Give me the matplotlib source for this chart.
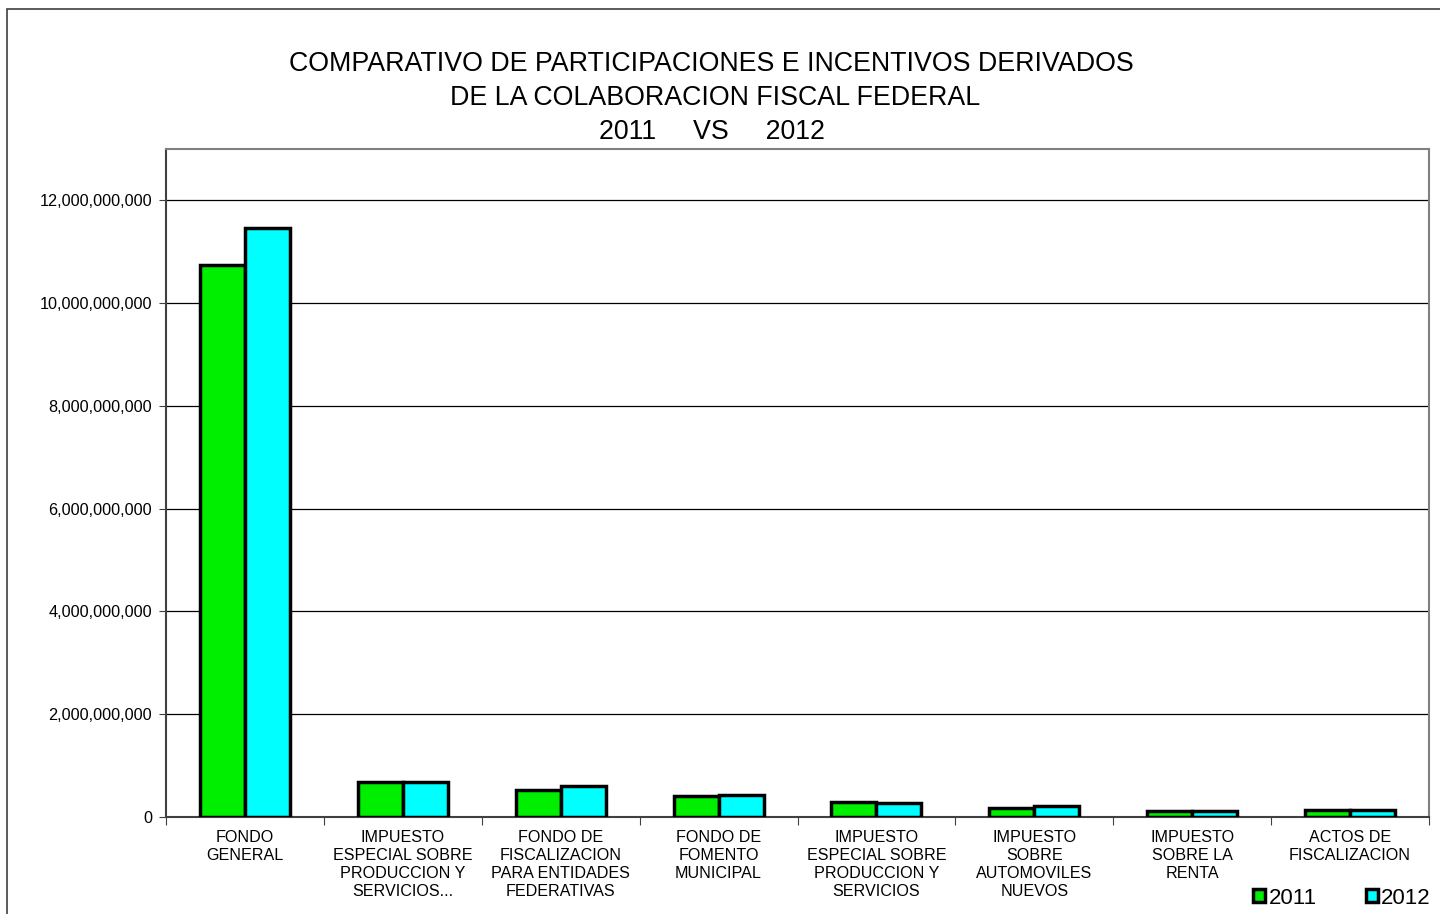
import numpy as np
import matplotlib
matplotlib.use("Agg")
import matplotlib.pyplot as plt
from matplotlib.patches import Rectangle
from matplotlib.ticker import FuncFormatter

plt.rcParams['font.family'] = ['Liberation Sans', 'DejaVu Sans']

# categories and values (pesos)
categorias = [
    "FONDO\nGENERAL",
    "IMPUESTO\nESPECIAL SOBRE\nPRODUCCION Y\nSERVICIOS...",
    "FONDO DE\nFISCALIZACION\nPARA ENTIDADES\nFEDERATIVAS",
    "FONDO DE\nFOMENTO\nMUNICIPAL",
    "IMPUESTO\nESPECIAL SOBRE\nPRODUCCION Y\nSERVICIOS",
    "IMPUESTO\nSOBRE\nAUTOMOVILES\nNUEVOS",
    "IMPUESTO\nSOBRE LA\nRENTA",
    "ACTOS DE\nFISCALIZACION",
]
valores_2011 = [10.75e9, 0.69e9, 0.53e9, 0.40e9, 0.29e9, 0.17e9, 0.12e9, 0.13e9]
valores_2012 = [11.46e9, 0.68e9, 0.60e9, 0.43e9, 0.27e9, 0.21e9, 0.12e9, 0.13e9]
series = ["2011", "2012"]

W, H = 1440, 914
fig = plt.figure(figsize=(14.4, 9.14), dpi=100)

# outer chart border (right and bottom edges fall outside the image)
fig.patches.append(Rectangle((7 / W, -0.2), 1.2, 1.2 - 9 / H, transform=fig.transFigure,
                             fill=False, edgecolor='#404040', lw=1.2))

ax = fig.add_axes([166 / W, 1 - 817 / H, (1429 - 166) / W, (817 - 149) / H])

x = np.arange(len(categorias))
bw = 0.285
ax.bar(x - bw / 2, valores_2011, bw, color='#00ee00', edgecolor='black', lw=2.5,
       label=series[0], zorder=3)
ax.bar(x + bw / 2, valores_2012, bw, color='#00ffff', edgecolor='black', lw=2.5,
       label=series[1], zorder=3)

ax.set_xlim(-0.5, len(categorias) - 0.5)
ax.set_ylim(0, 13e9)
ax.set_yticks(np.arange(0, 12.1e9, 2e9))
ax.yaxis.set_major_formatter(FuncFormatter(lambda v, p: f"{v:,.0f}"))
ax.grid(axis='y', color='black', lw=0.9, zorder=0)
ax.tick_params(axis='y', labelsize=11.7, length=5, color='#404040', pad=5)

ax.set_xticks(np.arange(-0.5, len(categorias), 1))
ax.set_xticklabels([])
ax.set_xticks(x, minor=True)
ax.set_xticklabels(categorias, minor=True, fontsize=11.6, linespacing=1.27, va='top')
ax.tick_params(axis='x', which='major', length=6, color='#404040')
ax.tick_params(axis='x', which='minor', length=0, pad=9)

for s in ax.spines.values():
    s.set_color('#808080')
    s.set_linewidth(1.5)
ax.spines['left'].set_color('#404040')
ax.spines['bottom'].set_color('#404040')

fig.text(711 / W, 1 - 64 / H, "COMPARATIVO DE PARTICIPACIONES E INCENTIVOS DERIVADOS",
         ha='center', va='center', fontsize=19.3)
fig.text(715 / W, 1 - 98 / H, "DE LA COLABORACION FISCAL FEDERAL",
         ha='center', va='center', fontsize=19.3)
fig.text(712 / W, 1 - 132 / H, "2011     VS     2012",
         ha='center', va='center', fontsize=19.3)

leg = fig.legend(loc='center', bbox_to_anchor=(1342 / W, 1 - 898 / H), ncol=2,
                 frameon=False, fontsize=16, handlelength=0.55, handleheight=0.55,
                 handletextpad=0.15, columnspacing=2.2)

fig.savefig("out.png", dpi=100)
